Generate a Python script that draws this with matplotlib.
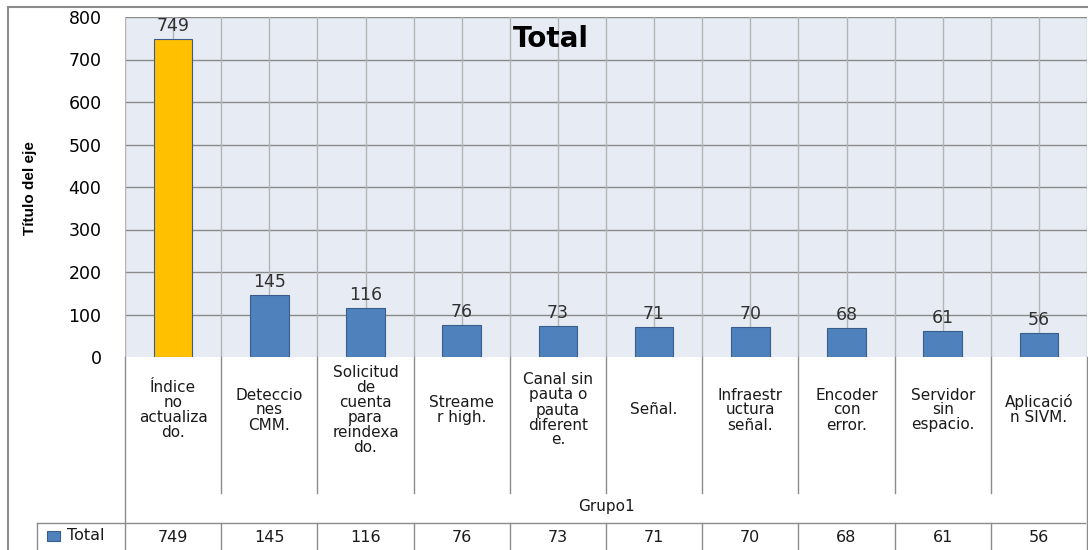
import matplotlib.pyplot as plt
import numpy as np
from matplotlib.transforms import blended_transform_factory
from matplotlib.patches import Rectangle

categories = ['Índice\nno\nactualiza\ndo.', 'Deteccio\nnes\nCMM.',
              'Solicitud\nde\ncuenta\npara\nreindexa\ndo.', 'Streame\nr high.',
              'Canal sin\npauta o\npauta\ndiferent\ne.', 'Señal.',
              'Infraestr\nuctura\nseñal.', 'Encoder\ncon\nerror.',
              'Servidor\nsin\nespacio.', 'Aplicació\nn SIVM.']
totals = [749, 145, 116, 76, 73, 71, 70, 68, 61, 56]
series_name = 'Total'
group_name = 'Grupo1'

W, H = 1088, 550
fig = plt.figure(figsize=(W / 100, H / 100), dpi=100)

def fy(py):
    return 1 - py / H

ax = fig.add_axes([125 / W, fy(357), (1087 - 125) / W, (357 - 17) / H])
ax.set_facecolor('#E7ECF4')
for s in ax.spines.values():
    s.set_visible(False)

x = np.arange(len(totals))
colors = ['#FFC000'] + ['#4F81BD'] * (len(totals) - 1)
ax.set_xlim(-0.5, len(totals) - 0.5)
ax.set_ylim(0, 800)

# gridlines
for yv in range(100, 801, 100):
    ax.axhline(yv, color='#8A8A8A', lw=1.0, zorder=1)
for xv in np.arange(-0.5, len(totals), 0.5):
    ax.axvline(xv, color='#B4B4B4', lw=1.0, zorder=1)

bars = ax.bar(x, totals, 0.4, color=colors, edgecolor='#385D8A', lw=0.8, zorder=3)
for b, v in zip(bars, totals):
    ax.annotate(str(v), (b.get_x() + b.get_width() / 2, v), xytext=(0, 3),
                textcoords='offset points', ha='center', va='bottom',
                fontsize=12.5, color='#303030', zorder=4)

ax.set_xticks([])
ax.set_yticks(range(0, 801, 100))
ax.tick_params(axis='y', length=0, pad=17, labelsize=12.5)

fig.text(30 / W, fy(188), 'Título del eje', rotation=90, ha='center', va='center',
         fontsize=11, fontweight='bold', family=['Liberation Sans Narrow', 'Liberation Sans'])
fig.text(551 / W, fy(39), 'Total', ha='center', va='center', fontsize=20,
         fontweight='bold')

# outer chart frame
fig.add_artist(plt.Line2D([8 / W, 8 / W], [fy(7), 0], transform=fig.transFigure,
                          color='#8C8C8C', lw=1.5))
fig.add_artist(plt.Line2D([8 / W, 1], [fy(7), fy(7)], transform=fig.transFigure,
                          color='#8C8C8C', lw=1.5))

# data table under the plot
tr = blended_transform_factory(ax.transData, fig.transFigure)
lc = '#8C8C8C'
for k in range(len(totals) + 1):
    xb = k - 0.5
    if k in (0, len(totals)):
        fig.add_artist(plt.Line2D([xb, xb], [fy(357), 0], transform=tr, color=lc, lw=1))
    else:
        fig.add_artist(plt.Line2D([xb, xb], [fy(357), fy(493)], transform=tr, color=lc, lw=1))
        fig.add_artist(plt.Line2D([xb, xb], [fy(523), 0], transform=tr, color=lc, lw=1))

fig.add_artist(plt.Line2D([37 / W, 1085 / W], [fy(523), fy(523)],
                          transform=fig.transFigure, color=lc, lw=1))
fig.add_artist(plt.Line2D([37 / W, 37 / W], [fy(523), 0],
                          transform=fig.transFigure, color=lc, lw=1))

for xi, lab, v in zip(x, categories, totals):
    fig.text(xi, fy(410), lab, transform=tr, ha='center', va='center',
             fontsize=11, linespacing=1.0, color='#1A1A1A')
    fig.text(xi, fy(537), str(v), transform=tr, ha='center', va='center',
             fontsize=11.5, color='#1A1A1A')

fig.text(606 / W, fy(507), group_name, ha='center', va='center', fontsize=11,
         color='#1A1A1A')
fig.add_artist(Rectangle((47 / W, fy(541)), 13 / W, 10 / H, transform=fig.transFigure,
                         facecolor='#4F81BD', edgecolor='#385D8A', lw=0.8))
fig.text(67 / W, fy(536), series_name, ha='left', va='center', fontsize=11.5,
         color='#1A1A1A')

fig.savefig('out.png', dpi=100)
